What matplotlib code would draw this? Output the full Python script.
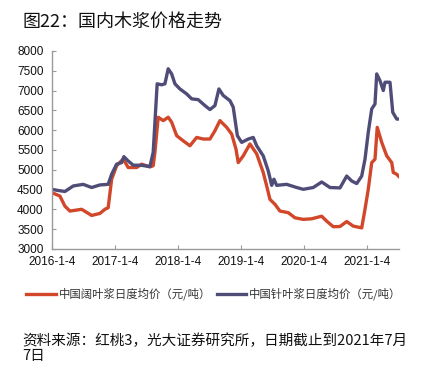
import matplotlib
matplotlib.use("Agg")
import matplotlib.pyplot as plt
import pandas as pd

plt.rcParams['font.family'] = ['Noto Sans CJK SC', 'DejaVu Sans']

title = "图22：国内木浆价格走势"
source = "资料来源：红桃3，光大证券研究所，日期截止到2021年7月\n7日"
hard_label = "中国阔叶浆日度均价（元/吨）"
soft_label = "中国针叶浆日度均价（元/吨）"

soft_dates = ["2016-01-04", "2016-02-02", "2016-03-19", "2016-05-07", "2016-07-03",
              "2016-08-21", "2016-10-08", "2016-11-25", "2016-12-15", "2017-01-13",
              "2017-02-11", "2017-02-24", "2017-03-21", "2017-04-19", "2017-06-07",
              "2017-07-25", "2017-08-13", "2017-09-05", "2017-10-01", "2017-10-20",
              "2017-11-08", "2017-11-28", "2017-12-17", "2018-01-15", "2018-02-23",
              "2018-03-24", "2018-05-01", "2018-06-09", "2018-07-08", "2018-08-06",
              "2018-08-29", "2018-09-23", "2018-11-01", "2018-11-20", "2018-12-14",
              "2019-01-08", "2019-02-15", "2019-03-16", "2019-04-05", "2019-05-13",
              "2019-06-11", "2019-07-01", "2019-07-14", "2019-07-30", "2019-09-26",
              "2019-11-23", "2019-12-31", "2020-02-27", "2020-04-16", "2020-06-03",
              "2020-07-31", "2020-09-08", "2020-10-07", "2020-11-05", "2020-12-04",
              "2020-12-23", "2021-01-11", "2021-01-31", "2021-02-19", "2021-03-01",
              "2021-03-20", "2021-04-08", "2021-04-18", "2021-05-17", "2021-06-02",
              "2021-06-25", "2021-07-07"]
soft_values = [4505, 4480, 4450, 4590, 4630,
               4550, 4615, 4630, 4885, 5140,
               5180, 5330, 5220, 5115, 5110,
               5080, 5440, 7170, 7145, 7170,
               7550, 7420, 7170, 7040, 6915,
               6790, 6770, 6620, 6520, 6620,
               7040, 6875, 6745, 6580, 5860,
               5690, 5775, 5815, 5605, 5350,
               4970, 4605, 4760, 4605, 4630,
               4550, 4505, 4550, 4690, 4550,
               4540, 4840, 4715, 4650, 4840,
               5265, 5945, 6535, 6660, 7420,
               7250, 7000, 7210, 7210, 6450,
               6280, 6280]

hard_dates = ["2016-01-04", "2016-02-19", "2016-03-19", "2016-04-17", "2016-06-24",
              "2016-08-21", "2016-10-08", "2016-11-06", "2016-11-25", "2016-12-15",
              "2017-01-13", "2017-02-20", "2017-03-21", "2017-05-09", "2017-06-07",
              "2017-07-25", "2017-08-13", "2017-08-23", "2017-09-11", "2017-10-10",
              "2017-11-08", "2017-11-28", "2017-12-27", "2018-02-03", "2018-03-14",
              "2018-04-22", "2018-05-30", "2018-07-08", "2018-08-06", "2018-09-04",
              "2018-10-13", "2018-11-11", "2018-12-06", "2018-12-19", "2019-01-17",
              "2019-02-25", "2019-04-05", "2019-05-13", "2019-06-02", "2019-06-21",
              "2019-07-20", "2019-08-18", "2019-10-05", "2019-11-13", "2019-12-31",
              "2020-02-18", "2020-04-16", "2020-05-15", "2020-06-22", "2020-07-31",
              "2020-09-08", "2020-10-16", "2020-12-04", "2020-12-23", "2021-01-11",
              "2021-01-31", "2021-02-19", "2021-03-04", "2021-03-30", "2021-04-28",
              "2021-05-27", "2021-06-05", "2021-06-25", "2021-07-07"]
hard_values = [4420, 4335, 4080, 3955, 4000,
               3845, 3895, 4000, 4040, 4760,
               5100, 5270, 5055, 5055, 5140,
               5070, 5100, 5440, 6325, 6240,
               6325, 6200, 5860, 5730, 5605,
               5815, 5775, 5775, 5985, 6240,
               6070, 5900, 5520, 5180, 5350,
               5650, 5400, 4930, 4590, 4250,
               4125, 3955, 3915, 3785, 3745,
               3760, 3825, 3700, 3560, 3565,
               3690, 3575, 3530, 4000, 4505,
               5180, 5265, 6070, 5690, 5350,
               5180, 4930, 4885, 4830]

x_ticks = ["2016-01-04", "2017-01-04", "2018-01-04", "2019-01-04", "2020-01-04", "2021-01-04"]
x_tick_labels = ["2016-1-4", "2017-1-4", "2018-1-4", "2019-1-4", "2020-1-4", "2021-1-4"]
y_ticks = [3000, 3500, 4000, 4500, 5000, 5500, 6000, 6500, 7000, 7500, 8000]

red = "#D2472A"
blue = "#4F4D78"

fig = plt.figure(figsize=(4.33, 3.72), dpi=100)
ax = fig.add_axes([0.120, 0.331, 0.801, 0.532])

ax.plot(pd.to_datetime(hard_dates), hard_values, color=red, lw=2.4, label=hard_label,
        solid_joinstyle='round')
ax.plot(pd.to_datetime(soft_dates), soft_values, color=blue, lw=2.4, label=soft_label,
        solid_joinstyle='round')

ax.set_ylim(3000, 8000)
ax.set_yticks(y_ticks)
ax.set_yticklabels([str(v) for v in y_ticks], fontfamily='Liberation Sans', fontsize=8.5)
ax.set_xlim(pd.Timestamp("2016-01-04"), pd.Timestamp("2021-07-07"))
ax.set_xticks(pd.to_datetime(x_ticks))
ax.set_xticklabels(x_tick_labels, fontfamily='Liberation Sans', fontsize=8.5)

for s in ['top', 'right']:
    ax.spines[s].set_visible(False)
for s in ['left', 'bottom']:
    ax.spines[s].set_color('#9a9a9a')
    ax.spines[s].set_linewidth(1.0)
ax.tick_params(axis='both', direction='in', length=3, color='#9a9a9a', labelcolor='#111111')
ax.tick_params(axis='y', pad=6)
ax.tick_params(axis='x', pad=5)

leg = fig.legend(loc='center', bbox_to_anchor=(214 / 433, 1 - 294 / 372), ncol=2, frameon=False,
                 handlelength=2.6, handletextpad=0.25, columnspacing=0.5,
                 prop={'family': ['Noto Sans CJK SC'], 'size': 8.2})
for t in leg.get_texts():
    t.set_color('#333333')

fig.text(22 / 433, 1 - 22 / 372, title, fontsize=13, va='center', ha='left', color='#111111')
fig.text(22 / 433, 1 - 348 / 372, source, fontsize=10.5, va='center', ha='left',
         color='#111111', linespacing=1.1)

fig.savefig("out.png", dpi=100)
